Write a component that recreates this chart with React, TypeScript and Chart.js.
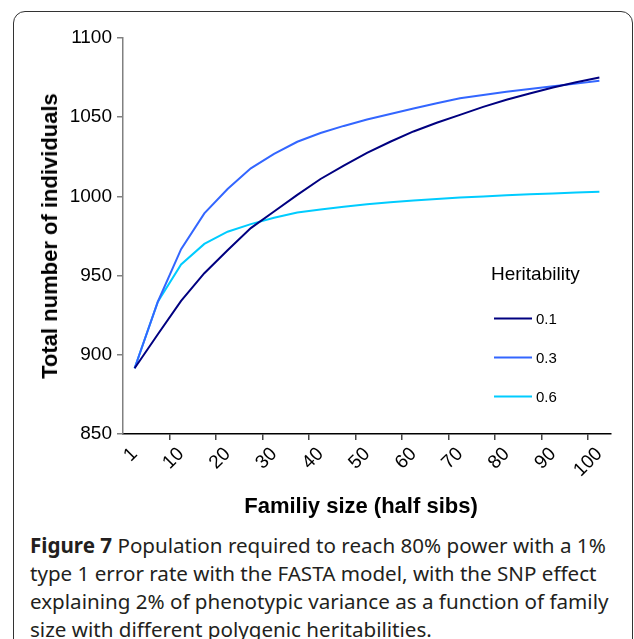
import React, { useEffect, useRef } from "react";
import { Chart, registerables } from "chart.js";

Chart.register(...registerables);

const familySizes = ["1","5","10","15","20","25","30","35","40","45","50","55","60","65","70","75","80","85","90","95","100"];
const herit01 = [891.5, 913, 934, 951.5, 966, 980, 990.5, 1001, 1011, 1019.5, 1027.5, 1034.5, 1041, 1046.5, 1051.5, 1056.5, 1061, 1065, 1068.8, 1072, 1075];
const herit03 = [891.5, 933.5, 966.7, 989.3, 1004.7, 1017.7, 1026.8, 1034.5, 1040, 1044.5, 1048.5, 1052, 1055.5, 1058.8, 1062, 1064, 1066, 1067.8, 1069.5, 1071.2, 1073];
const herit06 = [891.5, 933.5, 957, 970, 977.7, 982.5, 986.5, 989.8, 991.8, 993.5, 995, 996.3, 997.4, 998.4, 999.3, 1000, 1000.7, 1001.3, 1001.9, 1002.4, 1003];
const seriesNames = ["0.1", "0.3", "0.6"];
const seriesColors = ["#000080", "#3366FF", "#00CCFF"];
const yTicks = [850, 900, 950, 1000, 1050, 1100];

const FONT = "'Liberation Sans', Arial, Helvetica, sans-serif";

const legendPlugin = {
  id: "insideLegend",
  afterDatasetsDraw(chart: any) {
    const ctx = chart.ctx;
    ctx.save();
    ctx.fillStyle = "#000";
    ctx.textBaseline = "middle";
    ctx.textAlign = "left";
    ctx.font = `19px ${FONT}`;
    ctx.fillText("Heritability", 491, 275);
    ctx.font = `15px ${FONT}`;
    chart.data.datasets.forEach((ds: any, i: number) => {
      const y = 318.5 + i * 39;
      ctx.strokeStyle = ds.borderColor;
      ctx.lineWidth = 2;
      ctx.beginPath();
      ctx.moveTo(494, y);
      ctx.lineTo(532, y);
      ctx.stroke();
      ctx.fillStyle = "#000";
      ctx.fillText(ds.label, 536, y + 1);
    });
    ctx.restore();
  },
};

export default function App() {
  const canvasRef = useRef<HTMLCanvasElement | null>(null);

  useEffect(() => {
    const canvas = canvasRef.current;
    if (!canvas) return;
    const values = [herit01, herit03, herit06];
    const chart = new Chart(canvas, {
      type: "line",
      data: {
        labels: familySizes,
        datasets: values.map((v, i) => ({
          label: seriesNames[i],
          data: v,
          borderColor: seriesColors[i],
          backgroundColor: seriesColors[i],
          borderWidth: 2,
          pointRadius: 0,
          tension: 0,
          fill: false,
        })),
      },
      options: {
        responsive: false,
        animation: false,
        devicePixelRatio: 1,
        layout: { padding: { left: 0, top: 38, right: 23, bottom: 0 } },
        plugins: { legend: { display: false }, tooltip: { enabled: false } },
        scales: {
          x: {
            type: "category",
            offset: true,
            afterFit: (s: any) => { s.height = 96; },
            border: { display: true, color: "#000", width: 1.5 },
            grid: {
              offset: true,
              drawOnChartArea: false,
              drawTicks: true,
              tickLength: 6,
              lineWidth: 1.5,
              color: (c: any) => (c.index !== undefined && c.index > 0 && c.index % 2 === 0 ? "#444" : "rgba(0,0,0,0)"),
            },
            ticks: {
              autoSkip: false,
              maxRotation: 45,
              minRotation: 45,
              padding: 3,
              color: "#000",
              font: { family: FONT, size: 19 },
              callback: (_v: any, i: number) => (i % 2 === 0 ? familySizes[i] : ""),
            },
          },
          y: {
            min: yTicks[0],
            max: yTicks[yTicks.length - 1],
            afterFit: (s: any) => { s.width = 123; },
            afterBuildTicks: (s: any) => { s.ticks = yTicks.map((v) => ({ value: v })); },
            border: { display: true, color: "#808080", width: 1.5 },
            grid: {
              drawOnChartArea: false,
              drawTicks: true,
              tickLength: 6,
              lineWidth: 1.5,
              color: "#808080",
            },
            ticks: {
              padding: 5,
              color: "#000",
              font: { family: FONT, size: 19 },
              callback: (v: any) => String(v),
            },
          },
        },
      },
      plugins: [legendPlugin],
    });
    return () => chart.destroy();
  }, []);

  return (
    <div style={{ position: "absolute", left: 0, top: 0, width: 634, height: 639, overflow: "hidden", background: "#fff" }}>
      <div
        style={{
          position: "absolute",
          left: 13,
          top: 11,
          width: 618,
          height: 700,
          border: "1.5px solid #333",
          borderRadius: 12,
        }}
      />
      <canvas ref={canvasRef} width={634} height={530} style={{ position: "absolute", left: 0, top: 0, width: 634, height: 530 }} />
      <div
        style={{
          position: "absolute",
          left: 50,
          top: 236,
          transform: "translate(-50%, -50%) rotate(-90deg)",
          whiteSpace: "nowrap",
          fontFamily: FONT,
          fontWeight: "bold",
          fontSize: 22,
          color: "#000",
        }}
      >
        Total number of individuals
      </div>
      <div
        style={{
          position: "absolute",
          left: 361,
          top: 506,
          transform: "translate(-50%, -50%)",
          whiteSpace: "nowrap",
          fontFamily: FONT,
          fontWeight: "bold",
          fontSize: 22,
          color: "#000",
        }}
      >
        Familiy size (half sibs)
      </div>
      <div
        style={{
          position: "absolute",
          left: 30,
          top: 531,
          whiteSpace: "nowrap",
          fontFamily: "'Noto Sans', 'Open Sans', sans-serif",
          fontSize: 20.6,
          lineHeight: "28px",
          color: "#231f20",
        }}
      >
        <b>Figure 7</b> Population required to reach 80% power with a 1%<br />
        type 1 error rate with the FASTA model, with the SNP effect<br />
        explaining 2% of phenotypic variance as a function of family<br />
        size with different polygenic heritabilities.
      </div>
    </div>
  );
}
